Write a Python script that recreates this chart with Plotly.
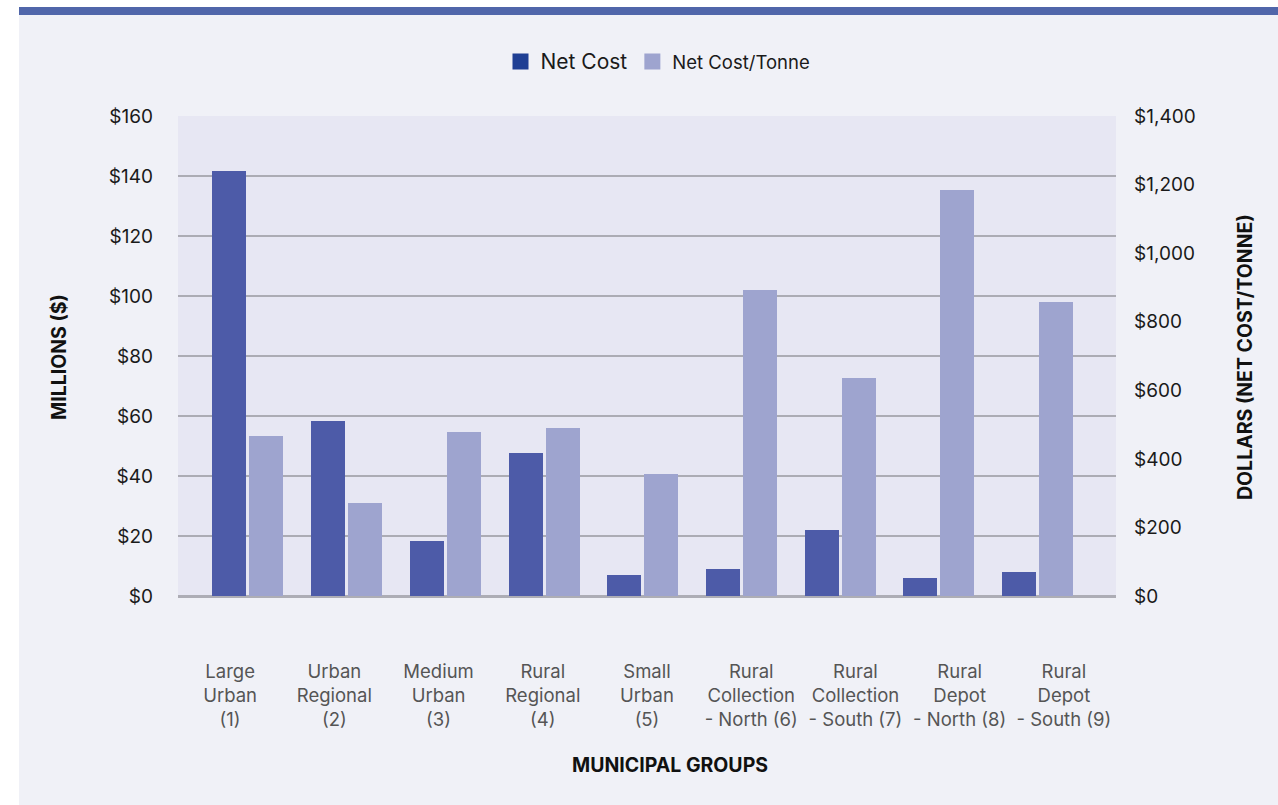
import plotly.graph_objects as go

# Municipal group labels (line breaks as shown on the axis)
groups = [
    "Large<br>Urban<br>(1)",
    "Urban<br>Regional<br>(2)",
    "Medium<br>Urban<br>(3)",
    "Rural<br>Regional<br>(4)",
    "Small<br>Urban<br>(5)",
    "Rural<br>Collection<br>- North (6)",
    "Rural<br>Collection<br>- South (7)",
    "Rural<br>Depot<br>- North (8)",
    "Rural<br>Depot<br>- South (9)",
]

# Net cost, millions of dollars (left axis)
net_cost_millions = [141.7, 58.3, 18.3, 47.7, 7.0, 9.0, 22.0, 6.0, 8.0]

# Net cost per tonne, dollars (right axis)
net_cost_per_tonne = [467, 271, 478, 490, 356, 893, 636, 1184, 858]

left_ticks = [0, 20, 40, 60, 80, 100, 120, 140, 160]
right_ticks = [0, 200, 400, 600, 800, 1000, 1200, 1400]

left_tick_text = ["$" + f"{v:,}" for v in left_ticks]
right_tick_text = ["$" + f"{v:,}" for v in right_ticks]

positions = list(range(len(groups)))

FONT = "Inter, Lato, 'Open Sans', Arial, sans-serif"
DARK = "#4d5ba8"
LIGHT = "#9ea4cf"
LEGEND_DARK = "#1f3f94"

fig = go.Figure()

fig.add_trace(go.Bar(
    x=positions, y=net_cost_millions, name="Net Cost",
    width=0.3445, offset=-0.3597,
    marker=dict(color=DARK, line=dict(width=0)),
    xaxis="x", yaxis="y", showlegend=False,
))
fig.add_trace(go.Bar(
    x=positions, y=net_cost_per_tonne, name="Net Cost/Tonne",
    width=0.3445, offset=0.0152,
    marker=dict(color=LIGHT, line=dict(width=0)),
    xaxis="x", yaxis="y2", showlegend=False,
))

# Legend entries
fig.add_trace(go.Scatter(
    x=[None], y=[None], mode="markers", xaxis="x2", yaxis="y",
    name='<span style="font-size:21px">Net Cost</span>',
    marker=dict(symbol="square", size=16, color=LEGEND_DARK),
))
fig.add_trace(go.Scatter(
    x=[None], y=[None], mode="markers", xaxis="x2", yaxis="y",
    name="Net Cost/Tonne",
    marker=dict(symbol="square", size=16, color=LIGHT),
))


# pixel -> paper helpers for the frame decorations
def px_x(p):
    return (p - 178) / 938


def px_y(p):
    return (596 - p) / 480


shapes = [
    # white page margins
    dict(type="rect", xref="paper", yref="paper", x0=px_x(-2), x1=px_x(19),
         y0=px_y(810), y1=px_y(-2), fillcolor="white", line=dict(width=0)),
    dict(type="rect", xref="paper", yref="paper", x0=px_x(-2), x1=px_x(1290),
         y0=px_y(7), y1=px_y(-2), fillcolor="white", line=dict(width=0)),
    # blue header band
    dict(type="rect", xref="paper", yref="paper", x0=px_x(19), x1=px_x(1290),
         y0=px_y(15), y1=px_y(7), fillcolor="#5066aa", line=dict(width=0)),
]

title_font = dict(size=19.5, color="#111111", family=FONT, weight=700)

annotations = [
    dict(text="MILLIONS ($)", xref="paper", yref="paper",
         x=px_x(59), y=px_y(357), xanchor="center", yanchor="middle",
         textangle=-90, showarrow=False, font=title_font),
    dict(text="DOLLARS (NET COST/TONNE)", xref="paper", yref="paper",
         x=px_x(1245), y=px_y(357), xanchor="center", yanchor="middle",
         textangle=-90, showarrow=False, font=title_font),
    dict(text="MUNICIPAL GROUPS", xref="paper", yref="paper",
         x=px_x(670), y=px_y(765), xanchor="center", yanchor="middle",
         showarrow=False, font=title_font),
]

fig.update_layout(
    width=1278, height=805,
    margin=dict(l=178, r=162, t=116, b=209, pad=0),
    paper_bgcolor="#f0f1f7",
    plot_bgcolor="#e7e7f3",
    font=dict(family=FONT, size=18, color="#1a1a1a"),
    barmode="overlay",
    bargap=0,
    shapes=shapes,
    annotations=annotations,
    showlegend=True,
    legend=dict(
        orientation="h", x=px_x(658), y=px_y(62),
        xanchor="center", yanchor="middle",
        bgcolor="rgba(0,0,0,0)", font=dict(size=18.5, color="#1a1a1a", family=FONT),
        itemclick=False, itemdoubleclick=False,
    ),
    xaxis=dict(
        type="linear", range=[-0.708, 8.795],
        showticklabels=False, showgrid=False, zeroline=False,
        showline=False, ticks="", fixedrange=True,
    ),
    xaxis2=dict(
        type="linear", overlaying="x", side="bottom", anchor="y",
        range=[-0.5, 8.5], tickvals=positions, ticktext=groups,
        showgrid=False, zeroline=False, showline=False, ticks="",
        ticklabelstandoff=62,
        tickfont=dict(size=18.5, color="#555555", family=FONT),
    ),
    yaxis=dict(
        range=[0, 160], tickvals=left_ticks, ticktext=left_tick_text,
        showgrid=True, gridcolor="#acacb4", gridwidth=1.5,
        zeroline=True, zerolinecolor="#adadb5", zerolinewidth=3,
        showline=False, ticks="", ticklabelstandoff=24,
        tickfont=dict(size=19, color="#1a1a1a", family=FONT),
    ),
    yaxis2=dict(
        overlaying="y", side="right", anchor="x",
        range=[0, 1400], tickvals=right_ticks, ticktext=right_tick_text,
        showgrid=False, zeroline=False, showline=False, ticks="",
        ticklabelstandoff=17,
        tickfont=dict(size=19, color="#1a1a1a", family=FONT),
    ),
)

fig.write_html("out.html")
